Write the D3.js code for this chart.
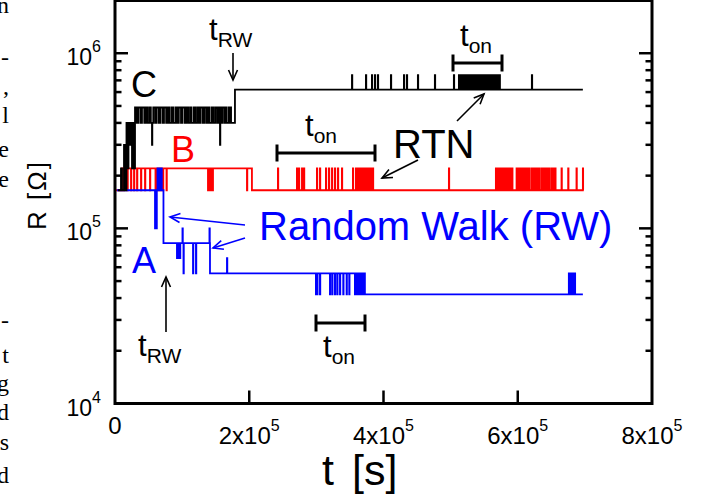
<!DOCTYPE html>
<html>
<head>
<meta charset="utf-8">
<script src="https://cdn.jsdelivr.net/npm/d3@7"></script>
<style>
  html, body { margin: 0; padding: 0; background: #fff; }
  svg { display: block; }
  text { font-family: "Liberation Sans", Arial, Helvetica, sans-serif; }
  .margin-text { font-family: "Liberation Serif", "Times New Roman", serif; }
</style>
</head>
<body>
<svg id="chart" width="702" height="497"></svg>
<script>
// ---- axis ticks -------------------------------------------------------
const xTickValues = [0, 2e5, 4e5, 6e5, 8e5];
const xTickBase   = ["0", "2x10", "4x10", "6x10", "8x10"];
const xTickExp    = ["", "5", "5", "5", "5"];
const yTickValues = [1e4, 1e5, 1e6];
const yTickExp    = ["4", "5", "6"];

// ---- trace A (blue): plateaus [t (ks), R (Ohm)] -----------------------
const traceA_steps = [[3, 1.65e5], [72.2, 8.24e4], [141.5, 5.53e4], [372.3, 4.2e4], [697, 4.2e4]];
// short excursions [t (ks), R (Ohm)]
const traceA_spikes = [
  [59.6, 1.0e5], [61.8, 1.0e5], [63.3, 2.2e5], [64.8, 2.2e5], [66.3, 2.2e5], [67.8, 2.2e5], [69.2, 2.2e5],
  [92.3, 6.76e4], [93.8, 6.76e4], [95.3, 6.76e4], [96.8, 6.76e4], [100.5, 1.0e5], [102.0, 5.53e4],
  [116.2, 5.53e4], [120.6, 5.53e4], [140.7, 1.0e5], [166.8, 6.76e4],
  [299.3, 4.2e4], [301.3, 4.2e4], [305.3, 4.2e4], [320.2, 4.2e4], [323.6, 4.2e4], [327.6, 4.2e4],
  [331.1, 4.2e4], [335.1, 4.2e4], [340.0, 4.2e4], [345.0, 4.2e4], [348.9, 4.2e4], [357.4, 4.2e4],
  [359.9, 4.2e4], [362.3, 4.2e4], [364.9, 4.2e4], [367.4, 4.2e4], [369.8, 4.2e4],
  [676.1, 5.53e4], [677.6, 5.53e4], [679.1, 5.53e4], [680.6, 5.53e4], [682.1, 5.53e4], [683.6, 5.53e4], [685.0, 5.53e4]
];

// ---- trace B (red) ----------------------------------------------------
const traceB_steps = [[0.7, 1.65e5], [10.4, 2.2e5], [204.0, 1.65e5], [697.4, 1.65e5]];
const traceB_spikes = [
  [13.4, 1.65e5], [18.6, 1.65e5], [23.8, 1.65e5], [28.3, 1.65e5], [32.8, 1.65e5], [38.7, 1.65e5],
  [44.7, 1.65e5], [52.1, 1.65e5], [60.3, 1.65e5], [62.5, 1.65e5], [64.0, 1.65e5], [65.5, 1.65e5],
  [67.0, 1.65e5], [68.5, 1.65e5], [71.5, 1.65e5], [76.7, 1.65e5],
  [138.5, 1.65e5], [139.5, 1.65e5], [140.5, 1.65e5], [141.5, 1.65e5], [142.5, 1.65e5], [143.5, 1.65e5],
  [144.5, 1.65e5], [145.5, 1.65e5], [196.6, 1.65e5],
  [242.7, 2.2e5], [271.0, 2.2e5], [274.0, 2.2e5], [278.5, 2.2e5], [281.5, 2.2e5], [300.8, 2.2e5],
  [305.3, 2.2e5], [314.2, 2.2e5], [318.7, 2.2e5], [323.2, 2.2e5], [327.6, 2.2e5], [332.1, 2.2e5],
  [338.0, 2.2e5], [354.4, 2.2e5], [358.9, 2.2e5], [361.9, 2.2e5], [364.9, 2.2e5], [367.8, 2.2e5],
  [369.3, 2.2e5], [372.3, 2.2e5], [375.3, 2.2e5], [376.8, 2.2e5], [379.7, 2.2e5], [382.7, 2.2e5],
  [384.2, 2.2e5], [497.4, 2.2e5],
  [567.4, 2.2e5], [569.4, 2.2e5], [571.4, 2.2e5], [573.3, 2.2e5], [575.3, 2.2e5], [577.3, 2.2e5],
  [579.7, 2.2e5], [582.3, 2.2e5], [584.2, 2.2e5], [587.2, 2.2e5], [589.3, 2.2e5], [591.7, 2.2e5],
  [598.2, 2.2e5], [600.7, 2.2e5], [603.1, 2.2e5], [606.1, 2.2e5], [608.1, 2.2e5], [611.1, 2.2e5],
  [614.1, 2.2e5], [617.1, 2.2e5], [620.6, 2.2e5], [623.1, 2.2e5], [626.1, 2.2e5], [629.1, 2.2e5],
  [632.1, 2.2e5], [635.5, 2.2e5], [638.0, 2.2e5], [641.0, 2.2e5], [644.0, 2.2e5], [647.0, 2.2e5],
  [650.4, 2.2e5], [652.9, 2.2e5], [655.9, 2.2e5], [665.2, 2.2e5], [675.1, 2.2e5], [687.5, 2.2e5],
  [697.0, 2.2e5]
];

// ---- trace C (black) --------------------------------------------------
const traceC_lead = [
  [4.5, 1.65e5], [8.9, 2.2e5], [10.4, 1.65e5], [13.4, 3.0e5], [14.9, 1.65e5], [17.1, 4.0e5],
  [18.6, 2.2e5], [20.1, 4.0e5], [22.3, 3.0e5], [23.8, 4.0e5], [25.3, 2.2e5], [26.8, 4.0e5], [28.3, 2.2e5]
];
// two-level telegraph switching before the random-walk jump (ks), starting high
const traceC_rtnLevels = [4.9e5, 4.0e5];
const traceC_rtnSwitch = [
  29.8, 32.5, 34.9, 38.1, 40.2, 43.6, 46.0, 48.7, 51.5, 53.4, 57.0, 59.8, 62.1, 65.3, 67.6, 70.9,
  73.0, 76.2, 78.9, 81.4, 84.5, 86.7, 90.0, 92.6, 95.1, 98.3, 100.4, 103.8, 106.2, 108.9, 111.7,
  113.8, 117.2, 119.5, 122.3, 125.0, 127.4, 130.6, 132.9, 135.8, 138.4, 140.7, 144.0, 146.3, 149.1,
  151.9, 154.0, 157.4, 159.6, 162.5, 165.1, 166.3
];
const traceC_tail = [[178.7, 6.2e5], [697, 6.2e5]];
const traceC_spikes = [
  [55.1, 3.0e5], [156.4, 3.0e5], [169.5, 4.9e5], [172.4, 4.9e5],
  [353.0, 7.5e5], [373.8, 7.5e5], [382.7, 7.5e5], [387.2, 7.5e5], [391.6, 7.5e5], [411.0, 7.5e5],
  [430.4, 7.5e5], [434.8, 7.5e5], [451.2, 7.5e5], [476.5, 7.5e5], [504.8, 7.5e5],
  [512.3, 7.5e5], [513.1, 7.5e5], [513.8, 7.5e5], [514.9, 7.5e5], [515.6, 7.5e5], [516.4, 7.5e5],
  [517.5, 7.5e5], [518.1, 7.5e5], [519.0, 7.5e5], [519.9, 7.5e5], [520.7, 7.5e5], [521.8, 7.5e5],
  [522.4, 7.5e5], [523.3, 7.5e5], [524.5, 7.5e5], [525.1, 7.5e5], [526.0, 7.5e5], [527.2, 7.5e5],
  [527.8, 7.5e5], [528.7, 7.5e5], [529.6, 7.5e5], [530.5, 7.5e5], [531.6, 7.5e5], [532.2, 7.5e5],
  [533.1, 7.5e5], [534.3, 7.5e5], [535.0, 7.5e5], [535.8, 7.5e5], [536.9, 7.5e5], [537.6, 7.5e5],
  [538.4, 7.5e5], [539.5, 7.5e5], [540.3, 7.5e5], [541.1, 7.5e5], [542.2, 7.5e5], [542.9, 7.5e5],
  [543.7, 7.5e5], [544.8, 7.5e5], [545.5, 7.5e5], [546.4, 7.5e5], [547.5, 7.5e5], [548.2, 7.5e5],
  [549.0, 7.5e5], [550.1, 7.5e5], [550.9, 7.5e5], [551.7, 7.5e5], [552.8, 7.5e5], [553.4, 7.5e5],
  [554.3, 7.5e5], [555.4, 7.5e5], [556.1, 7.5e5], [557.0, 7.5e5], [558.1, 7.5e5], [558.8, 7.5e5],
  [559.6, 7.5e5], [560.7, 7.5e5], [561.4, 7.5e5], [562.3, 7.5e5], [563.4, 7.5e5], [564.1, 7.5e5],
  [565.0, 7.5e5], [566.1, 7.5e5], [566.8, 7.5e5], [567.6, 7.5e5], [568.7, 7.5e5], [569.4, 7.5e5],
  [570.3, 7.5e5], [571.4, 7.5e5], [572.2, 7.5e5], [573.0, 7.5e5],
  [621.0, 7.5e5]
];

// neighbouring page text that runs along the left edge
const marginGlyphs = ["n", "-", ",", "l", "e", "e", "-", "t", "g", "d", "s", "d"];
const marginBaselines = [13, 65, 94, 123, 157, 187, 328, 363, 391, 420, 450, 483];

// ---- layout -----------------------------------------------------------
const svg = d3.select("#chart");
const plot = { left: 115, right: 652, top: 0.5, bottom: 403.5 };

const x = d3.scaleLinear().domain([0, 8e5]).range([plot.left, plot.right]);
const y = d3.scaleLog().domain([1e4, 2e6]).range([plot.bottom, plot.top]);

const KS = 1000;          // trace times are stored in kiloseconds
const PULSE = 0.5;        // duration of a short excursion (ks)

function levelAt(steps, t) {
  let r = steps[0][1];
  for (const s of steps) { if (s[0] <= t) r = s[1]; else break; }
  return r;
}
function buildTrace(steps, spikes) {
  const base = steps.slice().sort((a, b) => a[0] - b[0]);
  const pts = base.slice();
  spikes.forEach(([t, r]) => {
    const back = levelAt(base, t);
    pts.push([t, r], [t + PULSE, back]);
  });
  return pts.sort((a, b) => a[0] - b[0]);
}
function telegraph(times, levels) {
  return times.map((t, i) => [t, levels[i % 2]]);
}

const line = d3.line()
  .x(d => x(d[0] * KS))
  .y(d => y(d[1]))
  .curve(d3.curveStepAfter);

const traceA = buildTrace(traceA_steps, traceA_spikes);
const traceB = buildTrace(traceB_steps, traceB_spikes);
const traceC = buildTrace(
  traceC_lead.concat(telegraph(traceC_rtnSwitch, traceC_rtnLevels), traceC_tail),
  traceC_spikes
);

// ---- margin text ------------------------------------------------------
svg.append("g").selectAll("text").data(marginGlyphs).join("text")
  .attr("class", "margin-text")
  .attr("x", 9).attr("y", (d, i) => marginBaselines[i])
  .attr("text-anchor", "end")
  .attr("font-size", 24)
  .text(d => d);

// ---- traces -----------------------------------------------------------
const traces = svg.append("g").attr("fill", "none").attr("stroke-width", 1.8)
  .attr("stroke-linejoin", "miter");
traces.append("path").attr("d", line(traceB)).attr("stroke", "#ff0000");
traces.append("path").attr("d", line(traceA)).attr("stroke", "#0000ff");
traces.append("path").attr("d", line(traceC)).attr("stroke", "#000000");

// ---- frame and ticks --------------------------------------------------
const axes = svg.append("g").attr("stroke", "#000");
axes.append("rect")
  .attr("x", plot.left).attr("y", plot.top)
  .attr("width", plot.right - plot.left).attr("height", plot.bottom - plot.top)
  .attr("fill", "none").attr("stroke-width", 3);

// y ticks: majors at decades, minors at 2..9 x decade, on both sides, pointing inward
const yMinor = [];
[1e4, 1e5, 1e6].forEach(dec => { for (let k = 2; k <= 9; k++) if (dec * k < 2e6) yMinor.push(dec * k); });
[plot.left, plot.right].forEach((xp, side) => {
  const dir = side === 0 ? 1 : -1;
  axes.selectAll(null).data(yTickValues.slice(1)).join("line")
    .attr("x1", xp).attr("x2", xp + dir * 13)
    .attr("y1", d => y(d)).attr("y2", d => y(d))
    .attr("stroke-width", 2.5);
  axes.selectAll(null).data(yMinor).join("line")
    .attr("x1", xp).attr("x2", xp + dir * 6.5)
    .attr("y1", d => y(d)).attr("y2", d => y(d))
    .attr("stroke-width", 2.5);
});
axes.selectAll(null).data(xTickValues.slice(1, -1)).join("line")
  .attr("x1", d => x(d)).attr("x2", d => x(d))
  .attr("y1", plot.bottom).attr("y2", plot.bottom - 13)
  .attr("stroke-width", 2.5);

// ---- tick labels ------------------------------------------------------
const yLab = svg.append("g").attr("font-size", 23).attr("text-anchor", "end");
yTickValues.forEach((v, i) => {
  const t = yLab.append("text").attr("x", 101).attr("y", y(v) + 12);
  t.append("tspan").text("10");
  t.append("tspan").attr("dy", -13).attr("font-size", 16).text(yTickExp[i]);
});

const xLab = svg.append("g").attr("font-size", 24).attr("text-anchor", "middle");
xTickValues.forEach((v, i) => {
  const t = xLab.append("text").attr("x", x(v)).attr("y", i === 0 ? 434 : 444);
  t.append("tspan").text(xTickBase[i]);
  if (xTickExp[i]) t.append("tspan").attr("dy", -13).attr("font-size", 16).text(xTickExp[i]);
});

// ---- axis titles ------------------------------------------------------
const xTitle = svg.append("text").attr("x", 322).attr("y", 485).attr("font-size", 43);
xTitle.append("tspan").text("t");
xTitle.append("tspan").attr("dx", 18).text("[s]");
svg.append("text").attr("transform", "translate(46,196) rotate(-90)")
  .attr("text-anchor", "middle").attr("font-size", 26)
  .attr("textLength", 68).attr("lengthAdjust", "spacing").text("R [Ω]");

// ---- annotations ------------------------------------------------------
const ann = svg.append("g");
function arrow(x1, y1, x2, y2, color) {
  const a = Math.atan2(y2 - y1, x2 - x1), L = 11, s = 0.42;
  ann.append("line").attr("x1", x1).attr("y1", y1).attr("x2", x2).attr("y2", y2)
    .attr("stroke", color).attr("stroke-width", 1.6);
  ann.append("path")
    .attr("d", `M${x2 - L * Math.cos(a - s)},${y2 - L * Math.sin(a - s)}L${x2},${y2}L${x2 - L * Math.cos(a + s)},${y2 - L * Math.sin(a + s)}`)
    .attr("fill", "none").attr("stroke", color).attr("stroke-width", 1.6);
}
function span(x1, x2, yy) {
  ann.append("line").attr("x1", x1).attr("x2", x2).attr("y1", yy).attr("y2", yy)
    .attr("stroke", "#000").attr("stroke-width", 3);
  [x1, x2].forEach(xx => ann.append("line").attr("x1", xx).attr("x2", xx)
    .attr("y1", yy - 8.5).attr("y2", yy + 8.5).attr("stroke", "#000").attr("stroke-width", 3));
}
function subLabel(xx, yy, main, sub, color) {
  const t = ann.append("text").attr("x", xx).attr("y", yy).attr("fill", color).attr("font-size", 31);
  t.append("tspan").text(main);
  t.append("tspan").attr("dy", 7).attr("font-size", 21).text(sub);
}

ann.append("text").attr("x", 131).attr("y", 97).attr("font-size", 36).text("C");
ann.append("text").attr("x", 171).attr("y", 162).attr("font-size", 36).attr("fill", "#ff0000").text("B");
ann.append("text").attr("x", 132).attr("y", 273).attr("font-size", 36).attr("fill", "#0000ff").text("A");
ann.append("text").attr("x", 259).attr("y", 240).attr("font-size", 40).attr("fill", "#0000ff").text("Random Walk (RW)");
ann.append("text").attr("x", 393).attr("y", 158).attr("font-size", 40).text("RTN");

subLabel(209, 40, "t", "RW", "#000");
arrow(233, 53, 233, 80, "#000");
subLabel(138, 356, "t", "RW", "#000");
arrow(166, 332, 166, 277, "#000");

span(277, 375, 153);
subLabel(305, 136, "t", "on", "#000");
span(453, 502, 63);
subLabel(460, 46, "t", "on", "#000");
span(316, 365, 323);
subLabel(323, 357, "t", "on", "#000");

arrow(418, 160, 382, 178, "#000");
arrow(457, 121, 484, 94, "#000");
arrow(245, 225, 170, 217, "#0000ff");
arrow(245, 238, 213, 248, "#0000ff");
</script>
</body>
</html>
